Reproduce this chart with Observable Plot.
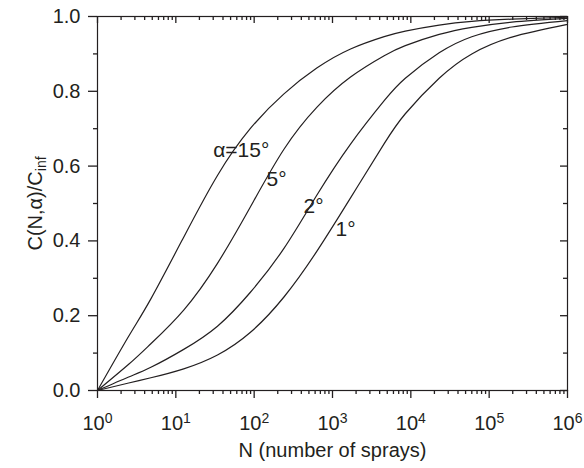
<!DOCTYPE html>
<html><head><meta charset="utf-8">
<script src="https://cdn.jsdelivr.net/npm/d3@7"></script>
<script src="https://cdn.jsdelivr.net/npm/@observablehq/plot@0.6"></script>
<style>body{margin:0;background:#fff}</style>
</head><body><div id="chart"></div>
<script>
// Number of sprays (x) sampled along the curves
const sprays = [1, 2.5, 4.8, 12.6, 34, 89, 240, 630, 1700, 4570, 8500, 23000, 60000, 195000, 1000000];
// C(N,α)/C_inf for each spray angle
const c15 = [0, 0.145, 0.245, 0.41, 0.575, 0.70, 0.793, 0.862, 0.913, 0.946, 0.961, 0.977, 0.987, 0.993, 0.998];
const c5  = [0, 0.07, 0.125, 0.215, 0.34, 0.49, 0.645, 0.757, 0.838, 0.895, 0.922, 0.952, 0.971, 0.985, 0.995];
const c2  = [0, 0.036, 0.062, 0.11, 0.172, 0.262, 0.38, 0.522, 0.659, 0.775, 0.835, 0.903, 0.946, 0.972, 0.989];
const c1  = [0, 0.02, 0.034, 0.058, 0.095, 0.155, 0.25, 0.372, 0.515, 0.66, 0.74, 0.835, 0.9, 0.945, 0.979];
const seriesNames = ["15", "5", "2", "1"];
const seriesValues = [c15, c5, c2, c1];
// Curve labels
const labelTexts = ["α=15°", "5°", "2°", "1°"];
const labelN = [30, 144, 426, 1093];
const labelC = [0.623, 0.548, 0.474, 0.414];
// Ticks
const xMajor = [1, 10, 100, 1000, 10000, 100000, 1000000];
const xMinor = xMajor.slice(0, -1).flatMap(d => [2,3,4,5,6,7,8,9].map(m => m * d));
const yMajor = [0, 0.2, 0.4, 0.6, 0.8, 1.0];
const yMinor = [0.1, 0.3, 0.5, 0.7, 0.9];
const xTitle = "N (number of sprays)";
const yTitle = "C(N,α)/C";
const yTitleSub = "inf";

const ink = "#231f20";
const W = 584, H = 468, mL = 97, mR = 17, mT = 16, mB = 78;
const fw = W - mL - mR, fh = H - mT - mB;
const rows = seriesNames.flatMap((s, i) => sprays.map((n, j) => ({series: s, N: n, C: seriesValues[i][j]})));
const labels = labelTexts.map((t, i) => ({t, N: labelN[i], C: labelC[i]}));
const tickStyle = {stroke: ink, strokeWidth: 1.3};

const plot = Plot.plot({
  width: W, height: H,
  marginLeft: mL, marginRight: mR, marginTop: mT, marginBottom: mB,
  style: {fontFamily: "'Liberation Sans', Arial, sans-serif", fontSize: "20px", color: ink, background: "#fff"},
  x: {type: "log", domain: [1, 1e6]},
  y: {domain: [0, 1]},
  marks: [
    Plot.line(rows, {x: "N", y: "C", z: "series", stroke: ink, strokeWidth: 1.2, curve: "natural"}),
    Plot.text(labels, {x: "N", y: "C", text: "t", textAnchor: "start", lineAnchor: "bottom", fill: ink, fontSize: 21}),
    // tick marks: bottom/left outward, top/right inward
    Plot.tickX(xMajor, {x: d => d, insetTop: fh, insetBottom: -8, ...tickStyle}),
    Plot.tickX(xMinor, {x: d => d, insetTop: fh, insetBottom: -4, ...tickStyle}),
    Plot.tickX(xMajor, {x: d => d, insetTop: 0, insetBottom: fh - 7, ...tickStyle}),
    Plot.tickX(xMinor, {x: d => d, insetTop: 0, insetBottom: fh - 4, ...tickStyle}),
    Plot.tickY(yMajor, {y: d => d, insetLeft: -9, insetRight: fw, ...tickStyle}),
    Plot.tickY(yMinor, {y: d => d, insetLeft: -4, insetRight: fw, ...tickStyle}),
    Plot.tickY(yMajor, {y: d => d, insetLeft: fw - 7, insetRight: 0, ...tickStyle}),
    Plot.tickY(yMinor, {y: d => d, insetLeft: fw - 4, insetRight: 0, ...tickStyle}),
    // tick labels and titles
    Plot.axisX({anchor: "bottom", ticks: xMajor, tickSize: 0, tickPadding: 25, stroke: "none",
      tickFormat: d => "10^" + Math.round(Math.log10(d)),
      label: xTitle, labelAnchor: "center", labelArrow: "none", labelOffset: 66}),
    Plot.axisY({anchor: "left", ticks: yMajor, tickSize: 0, tickPadding: 17, stroke: "none",
      tickFormat: d3.format(".1f"),
      label: yTitle, labelAnchor: "center", labelArrow: "none", labelOffset: 70}),
    Plot.frame({stroke: ink, strokeWidth: 1.2})
  ]
});

// superscript exponents on x tick labels
d3.select(plot).selectAll('g[aria-label="x-axis tick label"] text').each(function() {
  const [base, exp] = this.textContent.split("^");
  const t = d3.select(this);
  t.text(base);
  t.append("tspan").attr("dy", "-0.45em").attr("font-size", "14px").text(exp);
});
// subscript on y title
d3.select(plot).selectAll('g[aria-label="y-axis label"] text').each(function() {
  d3.select(this).append("tspan").attr("dy", "0.3em").attr("font-size", "14px").text(yTitleSub);
});

document.getElementById("chart").append(plot);
</script>
</body></html>
